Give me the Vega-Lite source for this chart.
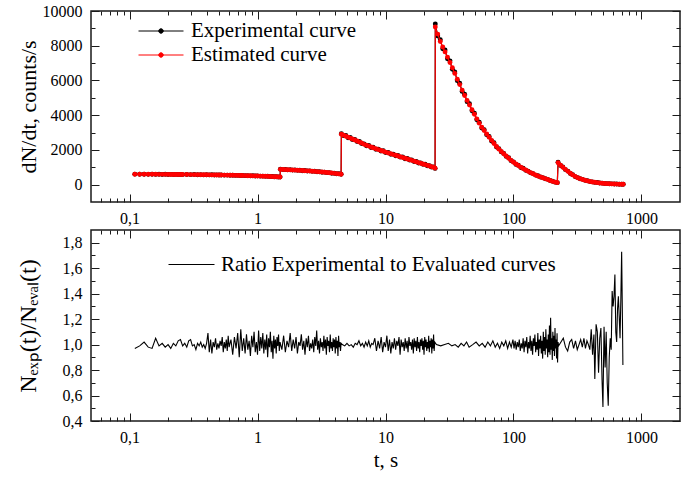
{
"$schema": "https://vega.github.io/schema/vega-lite/v6.json",
"autosize": {"type": "pad"},
"padding": {"left": 15, "top": 2, "right": 11, "bottom": 8},
"bounds": "flush",
"spacing": 28,
"config": {
  "font": "Liberation Serif",
  "view": {"stroke": "#1a1a1a", "strokeWidth": 1.5},
  "axis": {"labelFont": "Liberation Serif", "titleFont": "Liberation Serif", "labelFontSize": 16, "titleFontSize": 22, "titleFontWeight": "normal", "labelColor": "#000", "titleColor": "#000", "tickColor": "#1a1a1a", "domain": false, "grid": false, "labelFlush": false, "labelOverlap": false, "tickWidth": 1},
  "legend": {"labelFont": "Liberation Serif", "labelFontSize": 21, "labelColor": "#000", "labelLimit": 500}
},
"resolve": {"scale": {"color": "independent"}, "legend": {"color": "independent"}},
"vconcat": [
{
  "width": 589, "height": 191,
  "data": {"values": [
{"t":0.11,"e":600,"x":604},{"t":0.12,"e":599,"x":595},{"t":0.13,"e":598,"x":602},{"t":0.14,"e":597,"x":592},{"t":0.15,"e":595,"x":599},{"t":0.16,"e":594,"x":590},{"t":0.17,"e":593,"x":597},{"t":0.18,"e":592,"x":588},{"t":0.19,"e":591,"x":595},{"t":0.2,"e":590,"x":586},
{"t":0.21,"e":588,"x":592},{"t":0.22,"e":587,"x":583},{"t":0.23,"e":586,"x":590},{"t":0.24,"e":585,"x":581},{"t":0.25,"e":584,"x":588},{"t":0.26,"e":583,"x":579},{"t":0.28,"e":580,"x":584},{"t":0.3,"e":578,"x":574},{"t":0.32,"e":576,"x":580},{"t":0.34,"e":574,"x":570},
{"t":0.36,"e":571,"x":575},{"t":0.38,"e":569,"x":565},{"t":0.4,"e":567,"x":571},{"t":0.42,"e":564,"x":560},{"t":0.44,"e":562,"x":566},{"t":0.46,"e":560,"x":556},{"t":0.48,"e":557,"x":561},{"t":0.5,"e":555,"x":551},{"t":0.52,"e":553,"x":557},{"t":0.55,"e":549,"x":545},
{"t":0.58,"e":546,"x":550},{"t":0.61,"e":542,"x":538},{"t":0.64,"e":539,"x":543},{"t":0.67,"e":536,"x":532},{"t":0.7,"e":532,"x":536},{"t":0.73,"e":529,"x":525},{"t":0.76,"e":525,"x":529},{"t":0.8,"e":521,"x":517},{"t":0.84,"e":516,"x":520},{"t":0.88,"e":511,"x":507},
{"t":0.92,"e":507,"x":511},{"t":0.96,"e":502,"x":498},{"t":1.0,"e":498,"x":502},{"t":1.05,"e":492,"x":488},{"t":1.1,"e":486,"x":490},{"t":1.15,"e":480,"x":476},{"t":1.2,"e":475,"x":479},{"t":1.25,"e":469,"x":465},{"t":1.3,"e":463,"x":467},{"t":1.35,"e":457,"x":453},
{"t":1.4,"e":452,"x":456},{"t":1.45,"e":446,"x":442},{"t":1.5,"e":440,"x":444},
{"t":1.51,"e":880,"x":890},{"t":1.58,"e":873,"x":866},{"t":1.65,"e":867,"x":875},{"t":1.72,"e":860,"x":852},{"t":1.8,"e":853,"x":861},{"t":1.88,"e":846,"x":838},{"t":1.96,"e":838,"x":846},{"t":2.05,"e":830,"x":822},{"t":2.14,"e":821,"x":829},{"t":2.24,"e":812,"x":804},
{"t":2.34,"e":803,"x":811},{"t":2.45,"e":793,"x":785},{"t":2.56,"e":782,"x":790},{"t":2.67,"e":772,"x":764},{"t":2.79,"e":761,"x":769},{"t":2.92,"e":749,"x":741},{"t":3.05,"e":737,"x":745},{"t":3.19,"e":724,"x":716},{"t":3.33,"e":711,"x":719},{"t":3.48,"e":697,"x":689},
{"t":3.64,"e":682,"x":690},{"t":3.8,"e":667,"x":659},{"t":3.97,"e":651,"x":659},{"t":4.15,"e":634,"x":626},{"t":4.33,"e":618,"x":626},{"t":4.5,"e":602,"x":595},
{"t":4.52,"e":2900,"x":2930},{"t":4.7,"e":2850,"x":2820},{"t":4.9,"e":2790,"x":2830},{"t":5.1,"e":2735,"x":2700},{"t":5.3,"e":2680,"x":2720},{"t":5.5,"e":2630,"x":2600},{"t":5.75,"e":2570,"x":2600},{"t":6.0,"e":2510,"x":2480},{"t":6.25,"e":2450,"x":2490},{"t":6.5,"e":2400,"x":2370},
{"t":6.8,"e":2320,"x":2350},{"t":7.1,"e":2270,"x":2240},{"t":7.4,"e":2220,"x":2250},{"t":7.7,"e":2170,"x":2140},{"t":8.0,"e":2125,"x":2150},{"t":8.4,"e":2070,"x":2040},{"t":8.8,"e":2015,"x":2045},{"t":9.2,"e":1965,"x":1940},{"t":9.6,"e":1920,"x":1950},{"t":10.0,"e":1875,"x":1850},
{"t":10.5,"e":1825,"x":1850},{"t":11.0,"e":1775,"x":1750},{"t":11.5,"e":1730,"x":1755},{"t":12.0,"e":1690,"x":1665},{"t":12.5,"e":1650,"x":1675},{"t":13.0,"e":1610,"x":1585},{"t":13.6,"e":1565,"x":1590},{"t":14.2,"e":1520,"x":1495},{"t":14.8,"e":1480,"x":1505},{"t":15.4,"e":1440,"x":1420},
{"t":16.0,"e":1400,"x":1420},{"t":16.7,"e":1355,"x":1330},{"t":17.4,"e":1310,"x":1330},{"t":18.1,"e":1270,"x":1250},{"t":18.8,"e":1230,"x":1250},{"t":19.6,"e":1190,"x":1170},{"t":20.4,"e":1150,"x":1170},{"t":21.2,"e":1110,"x":1090},{"t":22.0,"e":1070,"x":1090},{"t":22.8,"e":1035,"x":1015},
{"t":23.6,"e":1000,"x":1020},{"t":24.4,"e":950,"x":935},
{"t":24.5,"e":9080,"x":9250},{"t":25.6,"e":8670,"x":8560},{"t":26.8,"e":8240,"x":8350},{"t":28.0,"e":7930,"x":7830},{"t":29.2,"e":7645,"x":7750},{"t":30.5,"e":7345,"x":7250},{"t":31.9,"e":7035,"x":7130},{"t":33.3,"e":6730,"x":6640},{"t":34.8,"e":6405,"x":6490},{"t":36.4,"e":6075,"x":5990},
{"t":38.0,"e":5760,"x":5840},{"t":39.7,"e":5445,"x":5370},{"t":41.5,"e":5135,"x":5210},{"t":43.4,"e":4850,"x":4780},{"t":45.3,"e":4590,"x":4660},{"t":47.4,"e":4310,"x":4250},{"t":49.5,"e":4050,"x":4110},{"t":51.7,"e":3790,"x":3740},{"t":54.0,"e":3540,"x":3590},{"t":56.5,"e":3305,"x":3260},
{"t":59.0,"e":3115,"x":3160},{"t":61.7,"e":2920,"x":2880},{"t":64.5,"e":2730,"x":2770},{"t":67.4,"e":2550,"x":2510},{"t":70.4,"e":2370,"x":2410},{"t":73.6,"e":2200,"x":2170},{"t":76.9,"e":2045,"x":2075},{"t":80.3,"e":1910,"x":1885},{"t":83.9,"e":1775,"x":1800},{"t":87.7,"e":1650,"x":1625},
{"t":91.7,"e":1520,"x":1545},{"t":95.8,"e":1400,"x":1380},{"t":100,"e":1290,"x":1310},{"t":104.5,"e":1185,"x":1165},{"t":109,"e":1100,"x":1120},{"t":114,"e":1008,"x":990},{"t":119,"e":925,"x":940},{"t":124.5,"e":842,"x":830},{"t":130,"e":765,"x":780},{"t":136,"e":690,"x":680},
{"t":142,"e":624,"x":635},{"t":148.5,"e":559,"x":550},{"t":155,"e":501,"x":510},{"t":162,"e":445,"x":440},{"t":169,"e":395,"x":405},{"t":177,"e":345,"x":340},{"t":185,"e":300,"x":305},{"t":193,"e":240,"x":235},{"t":202,"e":187,"x":192},{"t":211,"e":145,"x":142},
{"t":220,"e":113,"x":115},
{"t":223,"e":1260,"x":1290},{"t":233,"e":1123,"x":1100},{"t":243,"e":1000,"x":1020},{"t":254,"e":881,"x":865},{"t":266,"e":765,"x":780},{"t":278,"e":655,"x":640},{"t":290,"e":561,"x":575},{"t":303,"e":474,"x":462},{"t":317,"e":396,"x":405},{"t":331,"e":344,"x":335},
{"t":346,"e":297,"x":305},{"t":362,"e":253,"x":246},{"t":378,"e":216,"x":222},{"t":395,"e":182,"x":176},{"t":413,"e":156,"x":161},{"t":431,"e":135,"x":130},{"t":451,"e":115,"x":119},{"t":471,"e":98,"x":94},{"t":492,"e":83,"x":86},{"t":514,"e":69,"x":66},
{"t":537,"e":58,"x":61},{"t":561,"e":50,"x":47},{"t":587,"e":43,"x":45},{"t":613,"e":37,"x":35},{"t":641,"e":31,"x":33},{"t":670,"e":26,"x":24},{"t":700,"e":22,"x":24},{"t":720,"e":20,"x":19}
  ]},
  "layer": [
    {"mark": {"type": "line", "strokeWidth": 1.2, "point": {"filled": true, "size": 24}},
     "encoding": {
       "x": {"field": "t", "type": "quantitative", "scale": {"type": "log", "domain": [0.05, 2000], "nice": false},
             "axis": {"orient": "bottom", "values": [0.1, 1, 10, 100, 1000], "labelExpr": "replace(format(datum.value,'~g'),'.',',')", "tickSize": -8, "labelPadding": 16, "title": null}},
       "y": {"field": "x", "type": "quantitative", "scale": {"domain": [-1000, 10000], "nice": false, "zero": false},
             "axis": {"orient": "left", "values": [0, 2000, 4000, 6000, 8000, 10000], "labelExpr": "format(datum.value,'d')", "tickSize": -8, "labelPadding": 17, "title": "dN/dt, counts/s", "titleX": -63, "titleBaseline": "middle"}},
       "color": {"datum": "Experimental curve", "scale": {"domain": ["Experimental curve", "Estimated curve"], "range": ["#000000", "#ff0000"]},
                 "legend": {"orient": "none", "legendX": 57, "legendY": 7, "title": null, "symbolType": "M-1.8,0L1.8,0M-0.18,0A0.18,0.18,0,1,0,0.18,0A0.18,0.18,0,1,0,-0.18,0M-0.1,0A0.1,0.1,0,1,0,0.1,0A0.1,0.1,0,1,0,-0.1,0", "symbolSize": 625, "symbolStrokeWidth": 1, "labelFontSize": 21, "labelOffset": 17, "rowPadding": 1}}
     }},
    {"mark": {"type": "line", "strokeWidth": 1.2, "point": {"filled": true, "size": 24}},
     "encoding": {
       "x": {"field": "t", "type": "quantitative", "scale": {"type": "log", "domain": [0.05, 2000], "nice": false}, "axis": null},
       "y": {"field": "e", "type": "quantitative", "scale": {"domain": [-1000, 10000], "nice": false, "zero": false}, "axis": null},
       "color": {"datum": "Estimated curve"}
     }},
    {"mark": {"type": "point", "opacity": 0},
     "encoding": {
       "x": {"field": "t", "type": "quantitative", "scale": {"type": "log", "domain": [0.05, 2000], "nice": false},
             "axis": {"orient": "bottom", "values": [0.06,0.07,0.08,0.09,0.2,0.3,0.4,0.5,0.6,0.7,0.8,0.9,2,3,4,5,6,7,8,9,20,30,40,50,60,70,80,90,200,300,400,500,600,700,800,900], "labels": false, "tickSize": -4, "title": null}},
       "y": {"field": "e", "type": "quantitative", "scale": {"domain": [-1000, 10000], "nice": false, "zero": false},
             "axis": {"orient": "left", "values": [1000, 3000, 5000, 7000, 9000], "labels": false, "tickSize": -4, "title": null}}
     }},
    {"mark": {"type": "point", "opacity": 0},
     "encoding": {
       "x": {"field": "t", "type": "quantitative", "scale": {"type": "log", "domain": [0.05, 2000], "nice": false},
             "axis": {"orient": "top", "values": [0.1, 1, 10, 100, 1000], "labels": false, "tickSize": -8, "title": null}},
       "y": {"field": "e", "type": "quantitative", "scale": {"domain": [-1000, 10000], "nice": false, "zero": false},
             "axis": {"orient": "right", "values": [0, 2000, 4000, 6000, 8000, 10000], "labels": false, "tickSize": -8, "title": null}}
     }},
    {"mark": {"type": "point", "opacity": 0},
     "encoding": {
       "x": {"field": "t", "type": "quantitative", "scale": {"type": "log", "domain": [0.05, 2000], "nice": false},
             "axis": {"orient": "top", "values": [0.06,0.07,0.08,0.09,0.2,0.3,0.4,0.5,0.6,0.7,0.8,0.9,2,3,4,5,6,7,8,9,20,30,40,50,60,70,80,90,200,300,400,500,600,700,800,900], "labels": false, "tickSize": -4, "title": null}},
       "y": {"field": "e", "type": "quantitative", "scale": {"domain": [-1000, 10000], "nice": false, "zero": false},
             "axis": {"orient": "right", "values": [1000, 3000, 5000, 7000, 9000], "labels": false, "tickSize": -4, "title": null}}
     }}
  ],
  "resolve": {"axis": {"x": "independent", "y": "independent"}}
},
{
  "width": 589, "height": 191,
  "data": {"values": [
{"t":0.11,"r":0.97},{"t":0.12,"r":0.99},{"t":0.13,"r":1.02},{"t":0.14,"r":0.98},{"t":0.15,"r":0.97},{"t":0.16,"r":1.05},{"t":0.17,"r":0.99},{"t":0.18,"r":1.01},{"t":0.19,"r":0.98},{"t":0.2,"r":1.0},
{"t":0.21,"r":0.97},{"t":0.22,"r":1.01},{"t":0.23,"r":0.99},{"t":0.24,"r":1.03},{"t":0.25,"r":1.04},{"t":0.26,"r":0.99},{"t":0.27,"r":1.01},{"t":0.28,"r":0.98},{"t":0.29,"r":1.03},{"t":0.3,"r":1.04},
{"t":0.31,"r":0.99},{"t":0.32,"r":1.0},{"t":0.33,"r":0.96},{"t":0.34,"r":1.01},{"t":0.35,"r":0.99},{"t":0.36,"r":1.02},{"t":0.37,"r":0.98},{"t":0.38,"r":1.0},{"t":0.39,"r":0.97},{"t":0.4,"r":1.01},
{"t":0.41,"r":1.09},{"t":0.42,"r":0.94},{"t":0.43,"r":1.04},{"t":0.44,"r":0.93},{"t":0.45,"r":1.02},{"t":0.46,"r":0.98},{"t":0.47,"r":1.05},{"t":0.48,"r":0.96},{"t":0.49,"r":1.01},{"t":0.5,"r":0.97},
{"t":0.51,"r":1.03},{"t":0.52,"r":0.99},{"t":0.53,"r":1.06},{"t":0.54,"r":0.94},{"t":0.55,"r":1.02},{"t":0.56,"r":0.97},{"t":0.57,"r":1.04},{"t":0.58,"r":0.95},{"t":0.59,"r":1.07},{"t":0.6,"r":0.98},
{"t":0.62,"r":1.04},{"t":0.64,"r":0.92},{"t":0.66,"r":1.06},{"t":0.68,"r":0.97},{"t":0.7,"r":1.09},{"t":0.72,"r":0.9},{"t":0.74,"r":1.12},{"t":0.76,"r":0.95},{"t":0.78,"r":1.05},{"t":0.8,"r":0.93},
{"t":0.82,"r":1.08},{"t":0.84,"r":0.96},{"t":0.86,"r":1.03},{"t":0.88,"r":0.91},{"t":0.9,"r":1.07},{"t":0.92,"r":0.98},{"t":0.94,"r":1.1},{"t":0.96,"r":0.94},{"t":0.98,"r":1.02},{"t":1.0,"r":0.92},
{"t":1.02,"r":1.11},{"t":1.04,"r":0.95},{"t":1.06,"r":1.06},{"t":1.08,"r":0.97},{"t":1.1,"r":1.09},{"t":1.12,"r":0.93},{"t":1.14,"r":1.04},{"t":1.16,"r":0.96},{"t":1.18,"r":1.08},{"t":1.2,"r":0.9},
{"t":1.22,"r":1.05},{"t":1.24,"r":0.98},{"t":1.26,"r":1.1},{"t":1.28,"r":0.94},{"t":1.3,"r":1.03},{"t":1.32,"r":0.89},{"t":1.34,"r":1.07},{"t":1.36,"r":0.97},{"t":1.38,"r":1.04},{"t":1.4,"r":0.93},
{"t":1.42,"r":1.06},{"t":1.44,"r":0.99},{"t":1.46,"r":1.08},{"t":1.48,"r":0.95},{"t":1.5,"r":1.02},
{"t":1.55,"r":0.96},{"t":1.6,"r":1.07},{"t":1.65,"r":0.94},{"t":1.7,"r":1.03},{"t":1.75,"r":0.98},{"t":1.8,"r":1.09},{"t":1.85,"r":0.95},{"t":1.9,"r":1.04},{"t":1.95,"r":0.97},{"t":2.0,"r":1.06},
{"t":2.05,"r":0.93},{"t":2.1,"r":1.02},{"t":2.15,"r":0.99},{"t":2.2,"r":1.08},{"t":2.25,"r":0.96},{"t":2.3,"r":1.03},{"t":2.35,"r":0.92},{"t":2.4,"r":1.05},{"t":2.45,"r":0.98},{"t":2.5,"r":1.07},
{"t":2.55,"r":0.95},{"t":2.6,"r":1.01},{"t":2.65,"r":0.97},{"t":2.7,"r":1.04},{"t":2.75,"r":0.94},{"t":2.8,"r":1.06},{"t":2.85,"r":0.99},{"t":2.9,"r":1.11},{"t":2.95,"r":0.96},{"t":3.0,"r":1.03},
{"t":3.05,"r":0.93},{"t":3.1,"r":1.05},{"t":3.15,"r":0.98},{"t":3.2,"r":1.02},{"t":3.25,"r":0.95},{"t":3.3,"r":1.07},{"t":3.35,"r":0.97},{"t":3.4,"r":1.04},{"t":3.45,"r":0.92},{"t":3.5,"r":1.06},
{"t":3.55,"r":0.99},{"t":3.6,"r":1.03},{"t":3.65,"r":0.94},{"t":3.7,"r":1.08},{"t":3.75,"r":0.97},{"t":3.8,"r":1.02},{"t":3.85,"r":0.95},{"t":3.9,"r":1.05},{"t":3.95,"r":0.98},{"t":4.0,"r":1.04},
{"t":4.05,"r":0.93},{"t":4.1,"r":1.06},{"t":4.15,"r":0.97},{"t":4.2,"r":1.03},{"t":4.25,"r":0.91},{"t":4.3,"r":1.07},{"t":4.35,"r":0.98},{"t":4.4,"r":1.02},{"t":4.45,"r":0.95},{"t":4.5,"r":1.01},
{"t":4.6,"r":1.0},{"t":4.8,"r":0.99},{"t":5.0,"r":1.01},{"t":5.2,"r":0.99},{"t":5.4,"r":1.0},{"t":5.6,"r":0.98},{"t":5.8,"r":1.01},{"t":6.0,"r":1.0},{"t":6.2,"r":1.03},{"t":6.4,"r":0.99},
{"t":6.6,"r":1.01},{"t":6.8,"r":0.98},{"t":7.0,"r":1.02},{"t":7.2,"r":0.99},{"t":7.4,"r":1.03},{"t":7.6,"r":0.98},{"t":7.8,"r":1.01},{"t":8.0,"r":1.0},
{"t":8.25,"r":1.05},{"t":8.5,"r":0.95},{"t":8.75,"r":1.03},{"t":9.0,"r":0.97},{"t":9.25,"r":1.06},{"t":9.5,"r":0.94},{"t":9.75,"r":1.02},{"t":10.0,"r":0.98},{"t":10.25,"r":1.07},{"t":10.5,"r":0.95},
{"t":10.75,"r":1.04},{"t":11.0,"r":0.93},{"t":11.25,"r":1.02},{"t":11.5,"r":0.97},{"t":11.75,"r":1.05},{"t":12.0,"r":0.96},{"t":12.25,"r":1.03},{"t":12.5,"r":0.99},{"t":12.75,"r":1.06},{"t":13.0,"r":0.92},
{"t":13.25,"r":1.04},{"t":13.5,"r":0.98},{"t":13.75,"r":1.02},{"t":14.0,"r":0.95},{"t":14.25,"r":1.05},{"t":14.5,"r":0.97},{"t":14.75,"r":1.03},{"t":15.0,"r":0.94},{"t":15.25,"r":1.06},{"t":15.5,"r":0.99},
{"t":15.75,"r":1.02},{"t":16.0,"r":0.96},{"t":16.25,"r":1.04},{"t":16.5,"r":0.93},{"t":16.75,"r":1.05},{"t":17.0,"r":0.98},{"t":17.25,"r":1.03},{"t":17.5,"r":0.95},{"t":17.75,"r":1.06},{"t":18.0,"r":0.97},
{"t":18.25,"r":1.02},{"t":18.5,"r":0.94},{"t":18.75,"r":1.04},{"t":19.0,"r":0.99},{"t":19.25,"r":1.05},{"t":19.5,"r":0.96},{"t":19.75,"r":1.03},{"t":20.0,"r":0.92},{"t":20.25,"r":1.06},{"t":20.5,"r":0.98},
{"t":20.75,"r":1.04},{"t":21.0,"r":0.95},{"t":21.25,"r":1.02},{"t":21.5,"r":0.97},{"t":21.75,"r":1.07},{"t":22.0,"r":0.94},{"t":22.25,"r":1.03},{"t":22.5,"r":0.98},{"t":22.75,"r":1.05},{"t":23.0,"r":0.93},
{"t":23.25,"r":1.04},{"t":23.5,"r":0.97},{"t":23.75,"r":1.08},{"t":24.0,"r":0.95},{"t":24.25,"r":1.02},
{"t":25,"r":1.0},{"t":27,"r":0.99},{"t":29,"r":1.0},{"t":31,"r":1.01},{"t":33,"r":0.99},{"t":35,"r":1.0},{"t":37,"r":0.98},{"t":39,"r":1.01},{"t":41,"r":0.99},{"t":43,"r":1.02},
{"t":45,"r":0.98},{"t":48,"r":1.0},{"t":51,"r":1.02},{"t":54,"r":0.99},{"t":57,"r":1.01},{"t":60,"r":0.98},{"t":63,"r":1.02},{"t":66,"r":0.99},{"t":69,"r":1.03},{"t":72,"r":0.98},
{"t":75,"r":1.01},{"t":78,"r":0.97},{"t":81,"r":1.02},{"t":84,"r":0.99},{"t":87,"r":1.03},{"t":90,"r":0.97},{"t":93,"r":1.02},{"t":96,"r":0.98},{"t":99,"r":1.04},
{"t":101,"r":0.97},{"t":103,"r":1.03},{"t":105,"r":0.96},{"t":107,"r":1.02},{"t":109,"r":0.98},{"t":111,"r":1.04},{"t":113,"r":0.95},{"t":115,"r":1.01},{"t":117,"r":0.97},{"t":119,"r":1.05},
{"t":121,"r":0.94},{"t":123,"r":1.03},{"t":125,"r":0.98},{"t":127,"r":1.06},{"t":129,"r":0.93},{"t":131,"r":1.02},{"t":133,"r":0.97},{"t":135,"r":1.07},{"t":137,"r":0.95},{"t":139,"r":1.03},
{"t":141,"r":0.92},{"t":143,"r":1.05},{"t":145,"r":0.99},{"t":147,"r":1.08},{"t":149,"r":0.94},{"t":151,"r":1.02},{"t":153,"r":0.96},{"t":155,"r":1.09},{"t":157,"r":0.91},{"t":159,"r":1.04},
{"t":161,"r":0.97},{"t":163,"r":1.07},{"t":165,"r":0.93},{"t":167,"r":1.03},{"t":169,"r":0.89},{"t":171,"r":1.1},{"t":173,"r":0.95},{"t":175,"r":1.06},{"t":177,"r":0.92},{"t":179,"r":1.12},
{"t":181,"r":0.97},{"t":183,"r":1.04},{"t":185,"r":0.9},{"t":187,"r":1.08},{"t":189,"r":0.94},{"t":191,"r":1.15},{"t":193,"r":0.92},{"t":195,"r":1.21},{"t":197,"r":0.96},{"t":199,"r":1.05},
{"t":201,"r":0.88},{"t":203,"r":1.1},{"t":205,"r":0.95},{"t":207,"r":1.07},{"t":209,"r":0.91},{"t":211,"r":1.13},{"t":213,"r":0.97},{"t":215,"r":1.04},{"t":217,"r":0.89},{"t":219,"r":1.09},
{"t":221,"r":0.86},{"t":223,"r":1.02},
{"t":225,"r":0.99},{"t":235,"r":1.02},{"t":245,"r":1.05},{"t":255,"r":0.98},{"t":265,"r":0.95},{"t":275,"r":1.02},{"t":285,"r":1.04},{"t":295,"r":0.97},{"t":305,"r":1.03},{"t":315,"r":0.96},
{"t":325,"r":1.0},{"t":335,"r":1.04},{"t":345,"r":0.98},{"t":355,"r":1.05},{"t":365,"r":0.97},{"t":375,"r":1.03},{"t":385,"r":1.0},{"t":395,"r":0.96},{"t":405,"r":1.12},{"t":415,"r":0.92},
{"t":425,"r":1.08},{"t":432,"r":0.73},{"t":442,"r":1.16},{"t":452,"r":1.1},{"t":462,"r":0.78},{"t":472,"r":1.05},{"t":482,"r":1.13},{"t":492,"r":0.72},{"t":500,"r":0.51},{"t":510,"r":1.14},
{"t":520,"r":0.82},{"t":530,"r":1.1},{"t":540,"r":0.7},{"t":550,"r":0.52},{"t":560,"r":0.9},{"t":570,"r":1.05},{"t":580,"r":0.96},{"t":590,"r":1.42},{"t":600,"r":1.3},{"t":610,"r":1.38},
{"t":620,"r":1.55},{"t":630,"r":1.1},{"t":640,"r":1.02},{"t":650,"r":1.28},{"t":660,"r":1.38},{"t":670,"r":1.22},{"t":680,"r":1.05},{"t":690,"r":1.36},{"t":700,"r":1.73},{"t":710,"r":1.2},
{"t":716,"r":0.84}
  ]},
  "layer": [
    {"mark": {"type": "line", "strokeWidth": 1.1},
     "encoding": {
       "x": {"field": "t", "type": "quantitative", "scale": {"type": "log", "domain": [0.05, 2000], "nice": false},
             "axis": {"orient": "bottom", "values": [0.1, 1, 10, 100, 1000], "labelExpr": "replace(format(datum.value,'~g'),'.',',')", "tickSize": -8, "labelPadding": 16, "title": "t, s", "titleFontSize": 21, "titleY": 39, "titleBaseline": "middle"}},
       "y": {"field": "r", "type": "quantitative", "scale": {"domain": [0.4, 1.9], "nice": false, "zero": false},
             "axis": {"orient": "left", "values": [0.4, 0.6, 0.8, 1.0, 1.2, 1.4, 1.6, 1.8], "labelExpr": "replace(format(datum.value,'.1f'),'.',',')", "tickSize": -8, "labelPadding": 17, "title": "Nₑₓₚ(t)/Nₑᵥₐₗ(t)", "titleFontSize": 24, "titleX": -63, "titleBaseline": "middle"}},
       "color": {"datum": "Ratio Experimental to Evaluated curves", "scale": {"domain": ["Ratio Experimental to Evaluated curves"], "range": ["#000000"]},
                 "legend": {"orient": "none", "legendX": 77, "legendY": 11, "title": null, "symbolType": "M-1,0L1,0", "symbolSize": 2116, "symbolStrokeWidth": 1, "labelFontSize": 21, "labelOffset": 6, "labelLimit": 500}}
     }},
    {"mark": {"type": "point", "opacity": 0},
     "encoding": {
       "x": {"field": "t", "type": "quantitative", "scale": {"type": "log", "domain": [0.05, 2000], "nice": false},
             "axis": {"orient": "bottom", "values": [0.06,0.07,0.08,0.09,0.2,0.3,0.4,0.5,0.6,0.7,0.8,0.9,2,3,4,5,6,7,8,9,20,30,40,50,60,70,80,90,200,300,400,500,600,700,800,900], "labels": false, "tickSize": -4, "title": null}},
       "y": {"field": "r", "type": "quantitative", "scale": {"domain": [0.4, 1.9], "nice": false, "zero": false},
             "axis": {"orient": "left", "values": [0.5, 0.7, 0.9, 1.1, 1.3, 1.5, 1.7], "labels": false, "tickSize": -4, "title": null}}
     }},
    {"mark": {"type": "point", "opacity": 0},
     "encoding": {
       "x": {"field": "t", "type": "quantitative", "scale": {"type": "log", "domain": [0.05, 2000], "nice": false},
             "axis": {"orient": "top", "values": [0.1, 1, 10, 100, 1000], "labels": false, "tickSize": -8, "title": null}},
       "y": {"field": "r", "type": "quantitative", "scale": {"domain": [0.4, 1.9], "nice": false, "zero": false},
             "axis": {"orient": "right", "values": [0.4, 0.6, 0.8, 1.0, 1.2, 1.4, 1.6, 1.8], "labels": false, "tickSize": -8, "title": null}}
     }},
    {"mark": {"type": "point", "opacity": 0},
     "encoding": {
       "x": {"field": "t", "type": "quantitative", "scale": {"type": "log", "domain": [0.05, 2000], "nice": false},
             "axis": {"orient": "top", "values": [0.06,0.07,0.08,0.09,0.2,0.3,0.4,0.5,0.6,0.7,0.8,0.9,2,3,4,5,6,7,8,9,20,30,40,50,60,70,80,90,200,300,400,500,600,700,800,900], "labels": false, "tickSize": -4, "title": null}},
       "y": {"field": "r", "type": "quantitative", "scale": {"domain": [0.4, 1.9], "nice": false, "zero": false},
             "axis": {"orient": "right", "values": [0.5, 0.7, 0.9, 1.1, 1.3, 1.5, 1.7], "labels": false, "tickSize": -4, "title": null}}
     }}
  ],
  "resolve": {"axis": {"x": "independent", "y": "independent"}}
}
]
}
